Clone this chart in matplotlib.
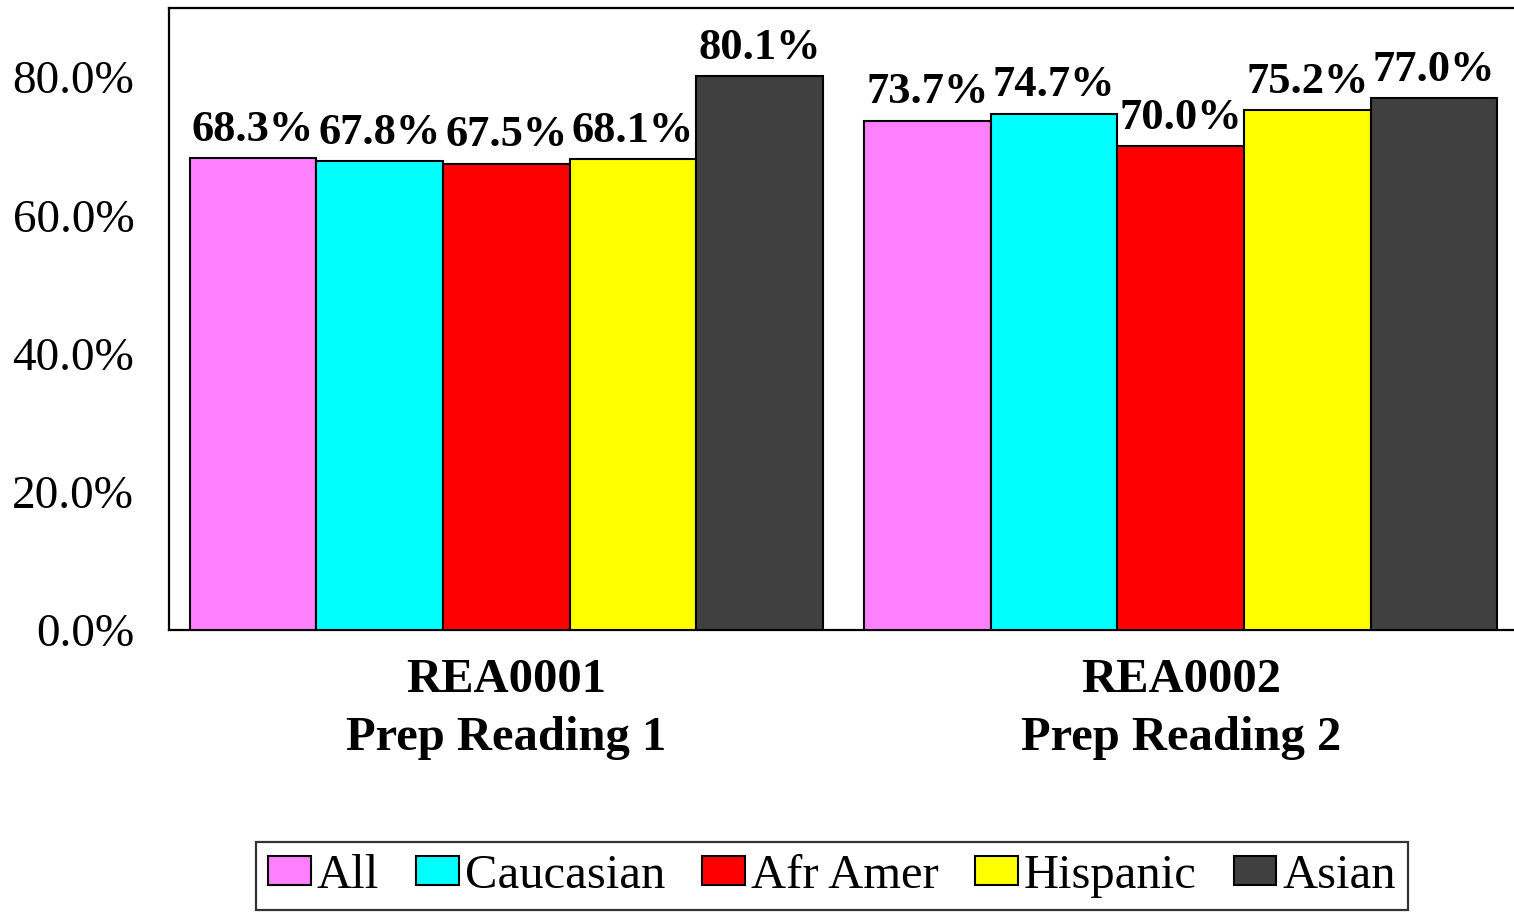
import matplotlib
matplotlib.use("Agg")
import matplotlib.pyplot as plt
import numpy as np

plt.rcParams['font.family'] = ['Liberation Serif', 'DejaVu Serif']

courses = ["REA0001\nPrep Reading 1", "REA0002\nPrep Reading 2"]
groups = ["All", "Caucasian", "Afr Amer", "Hispanic", "Asian"]
colors = ["#FF80FF", "#00FFFF", "#FF0000", "#FFFF00", "#404040"]
values = {
    "All": [68.3, 73.7],
    "Caucasian": [67.8, 74.7],
    "Afr Amer": [67.5, 70.0],
    "Hispanic": [68.1, 75.2],
    "Asian": [80.1, 77.0],
}
yticks = [0, 20, 40, 60, 80]

W, H = 1514, 913
fig = plt.figure(figsize=(W / 100, H / 100), dpi=100)
ax = fig.add_axes([169 / W, (H - 630) / H, 1349 / W, 622 / H])

x = np.arange(len(courses))
bw = 0.1877
n = len(groups)
for i, (g, c) in enumerate(zip(groups, colors)):
    pos = x + (i - (n - 1) / 2) * bw
    bars = ax.bar(pos, values[g], bw, color=c, edgecolor="black", linewidth=1.5,
                  label=g, zorder=3)
    for b, v in zip(bars, values[g]):
        ax.text(b.get_x() + b.get_width() / 2, v + 1.2, f"{v:.1f}%",
                ha="center", va="bottom", fontsize=32, fontweight="bold")

ax.set_xlim(-0.5, 1.5)
ax.set_ylim(0, 90)
ax.set_yticks(yticks)
ax.set_yticklabels([f"{t:.1f}%" for t in yticks], fontsize=34)
ax.set_xticks(x)
ax.set_xticklabels(courses, fontsize=35, fontweight="bold", linespacing=1.42)
ax.tick_params(axis="y", length=0, pad=25)
ax.tick_params(axis="x", length=0, pad=20)
for s in ax.spines.values():
    s.set_linewidth(1.6)

leg = fig.legend(loc="center", bbox_to_anchor=(832 / W, (H - 876) / H), ncol=5,
                 fontsize=35, frameon=True, fancybox=False, edgecolor="black",
                 handlelength=0.88, handleheight=0.55, handletextpad=0.12,
                 columnspacing=0.76, borderpad=0.24, borderaxespad=0)
leg.get_frame().set_linewidth(1.6)

fig.savefig("out.png", dpi=100)
